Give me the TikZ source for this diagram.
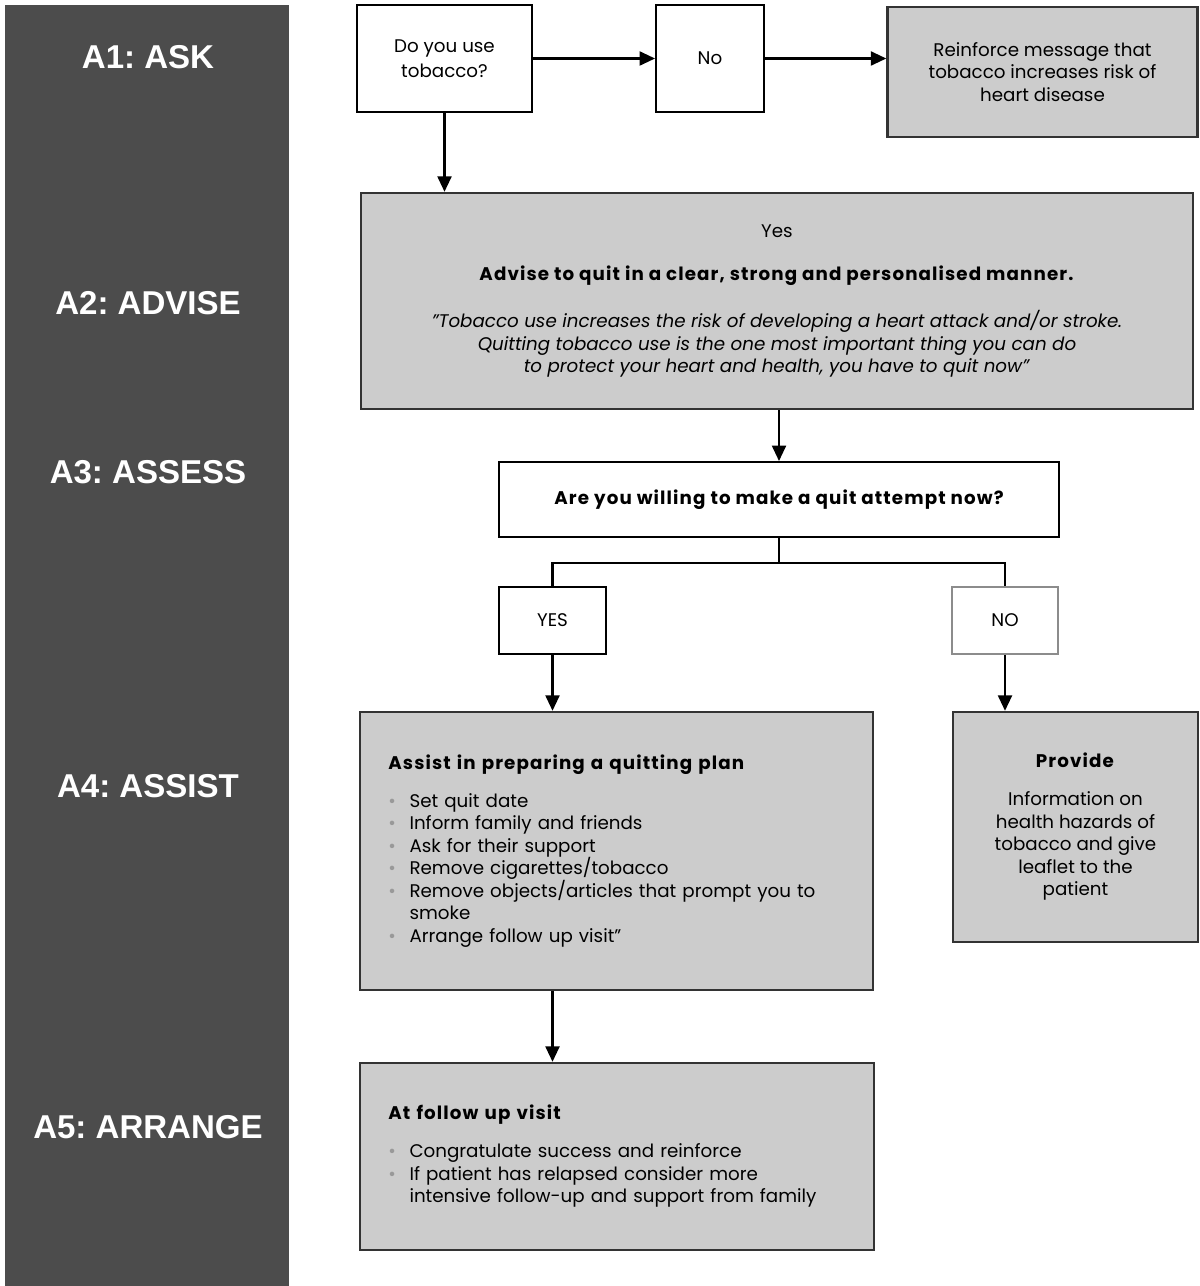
\documentclass[tikz,border=0pt]{standalone}
\usepackage{fontspec}
\setmainfont{Poppins}[BoldFeatures={LetterSpace=6}]
\newfontfamily\stagefont{Liberation Sans}
\usepackage{tikz}
\usetikzlibrary{shapes,arrows,arrows.meta}
\frenchspacing
\newcommand{\blt}{\makebox[15pt][l]{\textcolor{black!40}{\textbullet}}}
\tikzstyle{stage} = [text=white,font=\stagefont\bfseries\fontsize{23.5}{28}\selectfont]
\tikzstyle{question} = [rectangle,draw=black,line width=1.4pt,fill=white,text centered,align=center,font=\fontsize{13}{16}\selectfont]
\tikzstyle{shaded} = [rectangle,draw=black!80,line width=1.7pt,fill=black!20,font=\fontsize{13}{16}\selectfont]
\tikzstyle{arrow} = [line width=1.5pt,->,>={Triangle[length=11pt,width=10pt]}]
\tikzstyle{branch} = [line width=1.5pt]

\begin{document}
\begin{tikzpicture}[x=0.025cm,y=-0.025cm]
\useasboundingbox (0,0) rectangle (1200,1286);
\fill[black!70] (5,5) rectangle (289,1286);
\node (a1) [stage] at (148,57) {A1: ASK};
\node (a2) [stage] at (148,303) {A2: ADVISE};
\node (a3) [stage] at (148,472) {A3: ASSESS};
\node (a4) [stage] at (148,786) {A4: ASSIST};
\node (a5) [stage] at (148,1127) {A5: ARRANGE};

\node (ask) [question,minimum width=4.375cm,minimum height=2.675cm] at (444.5,58.5) {Do you use\\[2pt]tobacco?};
\node (no) [question,minimum width=2.7cm,minimum height=2.675cm] at (710,58.5) {No};
\node (reinforce) [shaded,align=center,minimum width=7.75cm,minimum height=3.25cm] at (1042.5,72) {Reinforce message that\\tobacco increases risk of\\heart disease};
\node (advise) [shaded,align=center,minimum width=20.8cm,minimum height=5.4cm] at (777,301) {Yes\\[14.6pt]\textbf{Advise to quit in a clear, strong and personalised manner.}\\[18pt]\textit{"Tobacco use increases the risk of developing a heart attack and/or stroke.}\\\textit{Quitting tobacco use is the one most important thing you can do}\\\textit{to protect your heart and health, you have to quit now"}};
\node (assess) [question,font=\bfseries\fontsize{13}{16}\selectfont,minimum width=14cm,minimum height=1.875cm] at (779,499.5) {Are you willing to make a quit attempt now?};
\coordinate (split) at (779,563);
\node (yesbox) [question,minimum width=2.675cm,minimum height=1.675cm] at (552.5,620.5) {YES};
\node (nobox) [question,draw=black!45,minimum width=2.65cm,minimum height=1.675cm] at (1005,620.5) {NO};
\node (assist) [shaded,text width=11.4cm,inner xsep=0.7125cm,align=left,minimum height=6.95cm] at (616.5,851) {\textbf{Assist in preparing a quitting plan}\\[11pt]
\blt Set quit date\\
\blt Inform family and friends\\
\blt Ask for their support\\
\blt Remove cigarettes/tobacco\\
\blt Remove objects/articles that prompt you to\\
\hspace*{15pt}smoke\\
\blt Arrange follow up visit"};
\node (provide) [shaded,align=center,minimum width=6.125cm,minimum height=5.75cm] at (1075.5,827) {\textbf{Provide}\\[11pt]Information on\\health hazards of\\tobacco and give\\leaflet to the\\patient};
\node (arrange) [shaded,text width=11.425cm,inner xsep=0.7125cm,align=left,minimum height=4.675cm] at (617,1156.5) {\textbf{At follow up visit}\\[11pt]
\blt Congratulate success and reinforce\\
\blt If patient has relapsed consider more\\
\hspace*{15pt}intensive follow-up and support from family};

\draw [arrow] (ask) -- (no);
\draw [arrow] (no.east) -- (no.east -| reinforce.west);
\draw [arrow] (ask) -- (ask |- advise.north);
\draw [arrow] (advise.south -| assess.north) -- (assess.north);
\draw [branch] (assess) -- (split);
\draw [branch] (yesbox.north) |- (split) -| (nobox.north);
\draw [arrow] (yesbox) -- (yesbox |- assist.north);
\draw [arrow] (nobox) -- (nobox |- provide.north);
\draw [arrow] (yesbox |- assist.south) -- (yesbox |- arrange.north);
\end{tikzpicture}
\end{document}
